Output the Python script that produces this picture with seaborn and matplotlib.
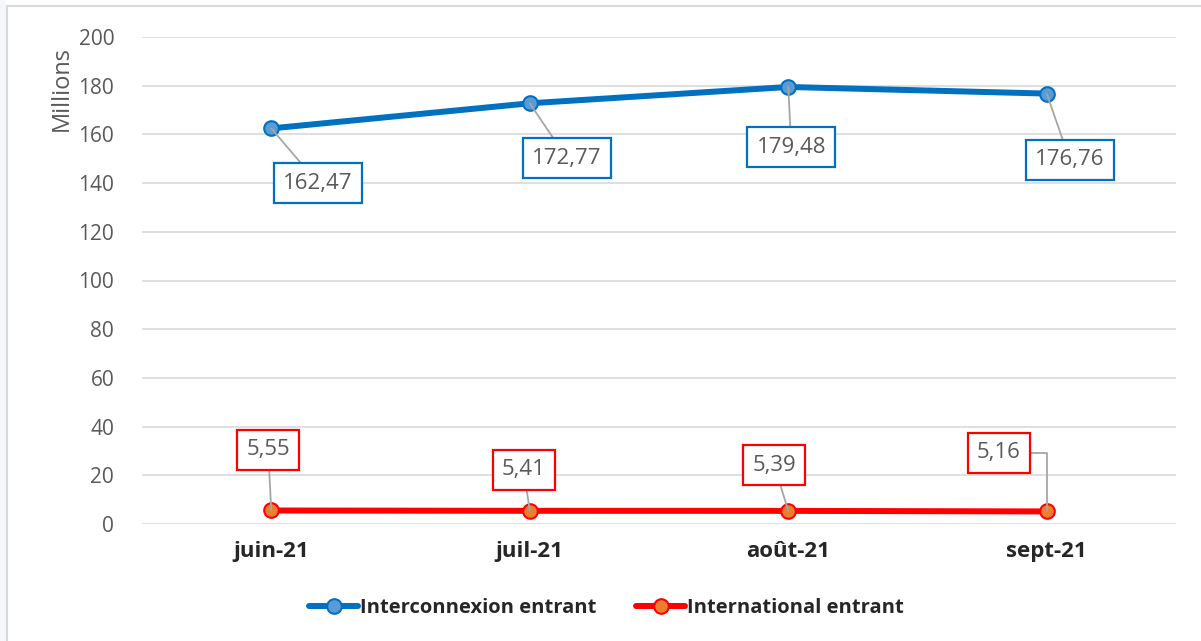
import matplotlib
matplotlib.use("Agg")
import matplotlib.pyplot as plt
import seaborn as sns
import pandas as pd
from matplotlib.patches import Rectangle
from matplotlib.lines import Line2D

months = ["juin-21", "juil-21", "août-21", "sept-21"]
interconnexion = [162.47, 172.77, 179.48, 176.76]
international = [5.55, 5.41, 5.39, 5.16]
series_names = ["Interconnexion entrant", "International entrant"]
y_ticks = [0, 20, 40, 60, 80, 100, 120, 140, 160, 180, 200]

sns.set_theme(style="white")
plt.rcParams['font.family'] = ['Open Sans', 'DejaVu Sans']

df = pd.DataFrame({
    "mois": months * 2,
    "valeur": interconnexion + international,
    "serie": [series_names[0]] * 4 + [series_names[1]] * 4,
})
df["x"] = list(range(4)) * 2

fig = plt.figure(figsize=(12.01, 6.41), dpi=100)
fig.patch.set_facecolor("white")
fig.patches.append(Rectangle((0, 0), 6 / 1201, 1, transform=fig.transFigure,
                             facecolor="#F4F7FB", edgecolor="none", zorder=0))
fig.add_artist(Line2D([7 / 1201, 7 / 1201], [0, 1 - 6 / 641], transform=fig.transFigure,
                      color="#D9D9D9", lw=1.5))
fig.add_artist(Line2D([7 / 1201, 1], [1 - 6 / 641, 1 - 6 / 641], transform=fig.transFigure,
                      color="#D9D9D9", lw=1.5))

ax = fig.add_axes([142 / 1201, 1 - 524 / 641, (1176 - 142) / 1201, (524 - 37) / 641])

colors = {series_names[0]: "#0070C0", series_names[1]: "#FF0000"}
mfaces = {series_names[0]: "#5B9BD5", series_names[1]: "#ED7D31"}

for name in series_names:
    sub = df[df["serie"] == name]
    sns.lineplot(data=sub, x="x", y="valeur", ax=ax, color=colors[name], lw=4.3,
                 marker="o", markersize=10.5, markerfacecolor=mfaces[name],
                 markeredgecolor=colors[name], markeredgewidth=1.5, legend=False,
                 zorder=3, solid_capstyle="round")

ax.set_xlim(-0.5, 3.5)
ax.set_ylim(0, 200)
ax.set_yticks(y_ticks)
ax.set_xticks(range(4))
ax.set_xticklabels(months, fontweight="bold", color="#262626", fontsize=16)
ax.tick_params(axis="y", labelsize=15, labelcolor="#595959", length=0, pad=20)
ax.tick_params(axis="x", length=0, pad=12)
ax.grid(axis="y", color="#D9D9D9", lw=1.2)
ax.set_axisbelow(True)
for s in ax.spines.values():
    s.set_visible(False)
ax.set_xlabel("")
ax.set_ylabel("Millions", fontsize=17, color="#595959")
ax.yaxis.set_label_coords(-0.066, 0.895)

def fmt(v):
    return f"{v:.2f}".replace(".", ",")

blue_pos = [(0.181, 140.0), (1.143, 150.3), (2.012, 154.8), (3.089, 149.5)]
red_pos = [(-0.012, 30.4), (0.977, 22.2), (1.946, 24.2), (2.815, 29.2)]

for i, v in enumerate(interconnexion):
    ax.annotate(fmt(v), xy=(i, v), xytext=blue_pos[i], ha="center", va="center",
                fontsize=16, color="#595959",
                bbox=dict(boxstyle="square,pad=0.42", fc="white", ec="#0070C0", lw=1.6),
                arrowprops=dict(arrowstyle="-", color="#A6A6A6", lw=1.3,
                                shrinkA=0, shrinkB=0), zorder=4)
for i, v in enumerate(international):
    if i == 3:
        ap = dict(arrowstyle="-", color="#A6A6A6", lw=1.3, shrinkA=0, shrinkB=0,
                  relpos=(1, 0.5), connectionstyle="angle,angleA=0,angleB=90,rad=0")
    else:
        ap = dict(arrowstyle="-", color="#A6A6A6", lw=1.3, shrinkA=0, shrinkB=0)
    ax.annotate(fmt(v), xy=(i, v), xytext=red_pos[i], ha="center", va="center",
                fontsize=16, color="#595959",
                bbox=dict(boxstyle="square,pad=0.42", fc="white", ec="#FF0000", lw=1.6),
                arrowprops=ap, zorder=4)

handles = [Line2D([], [], color=colors[n], lw=4.3, marker="o", markersize=10.5,
                  markerfacecolor=mfaces[n], markeredgecolor=colors[n],
                  markeredgewidth=1.5) for n in series_names]
leg = fig.legend(handles, series_names, loc="center", bbox_to_anchor=(0.505, 1 - 608 / 641),
                 ncol=2, frameon=False, handlelength=2.4, handletextpad=0.1,
                 columnspacing=2.0, prop={"weight": "bold", "size": 14.5})
for t in leg.get_texts():
    t.set_color("#262626")

fig.savefig("out.png", dpi=100)
